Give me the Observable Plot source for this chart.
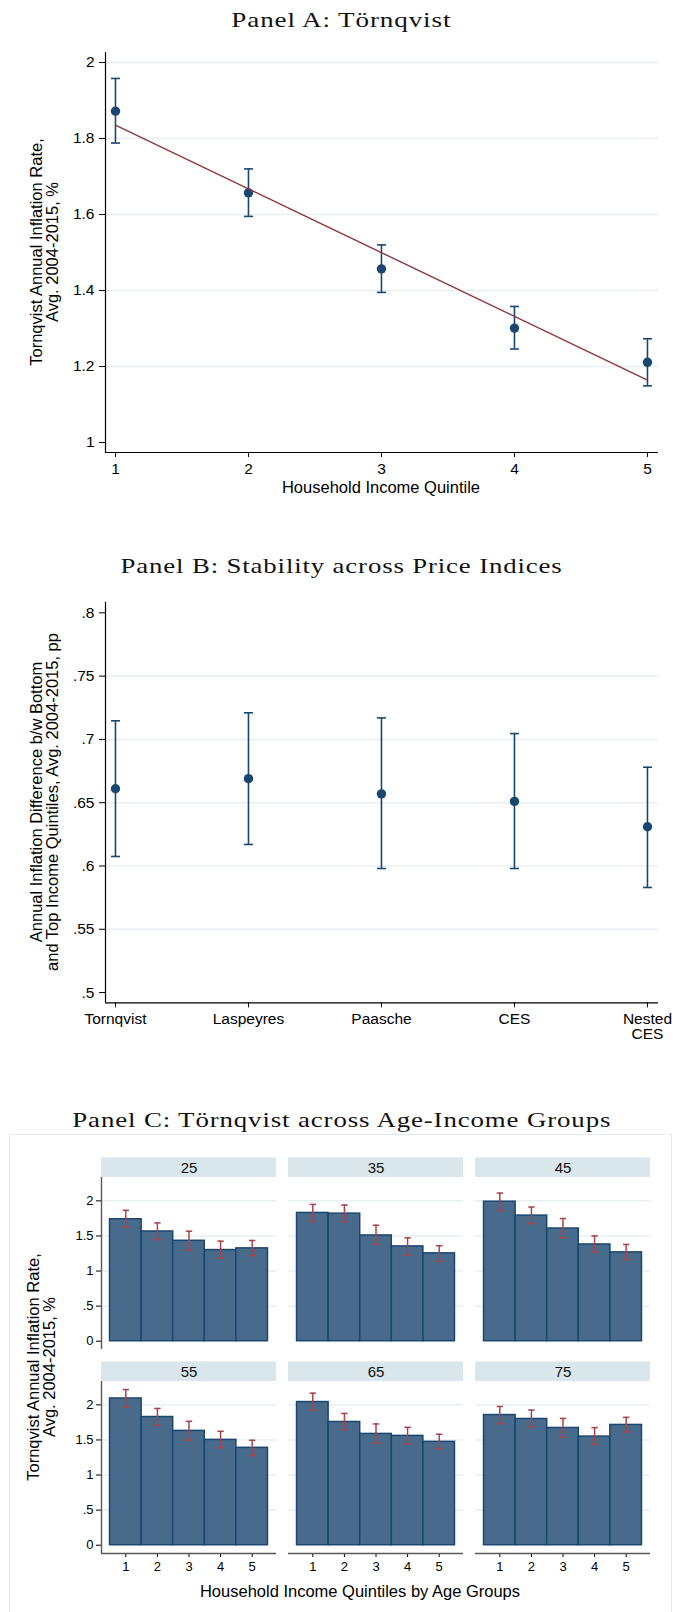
<!DOCTYPE html>
<html><head><meta charset="utf-8">
<script src="https://cdn.jsdelivr.net/npm/d3@7"></script>
<script src="https://cdn.jsdelivr.net/npm/@observablehq/plot@0.6"></script>
<style>
body{margin:0;background:#fff}
#root{position:relative;width:675px;height:1612px;overflow:hidden;background:#fff;font-family:"Liberation Sans",Arial,sans-serif;color:#000}
.abs{position:absolute;white-space:nowrap}
.title{font-family:"Liberation Serif","Times New Roman",serif;font-size:21.5px;line-height:1.2;letter-spacing:0.7px;color:#111}
.xlab{font-size:16.5px;line-height:1.2}
.ylab{font-size:16.5px;line-height:16px;white-space:pre;text-align:center}
</style></head>
<body><div id="root"></div>
<script>
// ---------- DATA ----------
const quintiles = [1, 2, 3, 4, 5];

// Panel A
const aMean = [1.872, 1.657, 1.457, 1.301, 1.211];
const aLo   = [1.788, 1.595, 1.395, 1.246, 1.149];
const aHi   = [1.958, 1.720, 1.520, 1.358, 1.273];
const aYTicks = [1, 1.2, 1.4, 1.6, 1.8, 2];
const aYTickLabels = ["1", "1.2", "1.4", "1.6", "1.8", "2"];
const aGrid = [1.2, 1.4, 1.6, 1.8, 2];

// Panel B
const indices = ["Tornqvist", "Laspeyres", "Paasche", "CES", "Nested CES"];
const indexLabels = ["Tornqvist", "Laspeyres", "Paasche", "CES", "Nested\nCES"];
const bMean = [0.661, 0.669, 0.657, 0.651, 0.631];
const bLo   = [0.6075, 0.617, 0.598, 0.598, 0.583];
const bHi   = [0.7147, 0.721, 0.717, 0.7046, 0.678];
const bYTicks = [0.5, 0.55, 0.6, 0.65, 0.7, 0.75, 0.8];
const bYTickLabels = [".5", ".55", ".6", ".65", ".7", ".75", ".8"];
const bGrid = [0.55, 0.6, 0.65, 0.7, 0.75];

// Panel C
const ageGroups = [25, 35, 45, 55, 65, 75];
const cMean = [
  [1.738, 1.564, 1.431, 1.299, 1.323],
  [1.828, 1.818, 1.507, 1.351, 1.252],
  [1.988, 1.790, 1.606, 1.379, 1.266],
  [2.091, 1.827, 1.629, 1.501, 1.388],
  [2.040, 1.756, 1.586, 1.558, 1.473],
  [1.855, 1.799, 1.671, 1.548, 1.714]
];
const cHi = [
  [1.865, 1.686, 1.568, 1.426, 1.436],
  [1.950, 1.941, 1.653, 1.473, 1.360],
  [2.111, 1.912, 1.748, 1.501, 1.379],
  [2.218, 1.949, 1.765, 1.623, 1.496],
  [2.167, 1.878, 1.728, 1.680, 1.581],
  [1.977, 1.926, 1.807, 1.676, 1.822]
];
const cLo = [
  [1.625, 1.450, 1.294, 1.181, 1.218],
  [1.705, 1.700, 1.379, 1.228, 1.139],
  [1.861, 1.677, 1.473, 1.266, 1.161],
  [1.969, 1.708, 1.496, 1.388, 1.279],
  [1.926, 1.643, 1.453, 1.439, 1.374],
  [1.732, 1.690, 1.538, 1.435, 1.615]
];
const cYTicks = [0, 0.5, 1, 1.5, 2];
const cYTickLabels = ["0", ".5", "1", "1.5", "2"];
const cGrid = [0.5, 1, 1.5, 2];

// ---------- STYLE / LAYOUT ----------
const navy = "#1a476f", maroon = "#90353b", gridCol = "#e8eff2";
const barFill = "#486b8c", ciRed = "#a8434b", stripFill = "#d9e6eb", axisGray = "#5a5a5a";
const font = '"Liberation Sans", Arial, sans-serif';
const root = document.getElementById("root");

const capSymbol = {draw(ctx, size) { const r = Math.sqrt(size / Math.PI); ctx.moveTo(-r, 0); ctx.lineTo(r, 0); }};
function labeler(ticks, labels) { const m = new Map(ticks.map((t, i) => [t, labels[i]])); return d => m.has(d) ? m.get(d) : ""; }
function mount(svg, top) { svg.style.position = "absolute"; svg.style.left = "0px"; svg.style.top = top + "px"; root.appendChild(svg); }

function placeText(text, cls, cx, baseline, targetWidth) {
  const d = document.createElement("div");
  d.className = "abs " + cls;
  d.style.left = "0px"; d.style.top = "0px";
  const t = document.createElement("span"); t.textContent = text;
  const m = document.createElement("span"); m.style.cssText = "display:inline-block;width:0;height:0;vertical-align:baseline";
  d.appendChild(t); d.appendChild(m);
  root.appendChild(d);
  const rb = root.getBoundingClientRect();
  const bl = m.getBoundingClientRect().top - rb.top;
  const w = t.getBoundingClientRect().width;
  const sx = targetWidth ? targetWidth / w : 1;
  d.style.top = (baseline - bl) + "px";
  d.style.left = (cx - w / 2) + "px";
  d.style.transformOrigin = (w / 2) + "px 50%";
  d.style.transform = "scaleX(" + sx + ")";
}
function placeYLabel(text, cx, cy) {
  const d = document.createElement("div");
  d.className = "abs ylab";
  d.textContent = text;
  root.appendChild(d);
  const r = d.getBoundingClientRect();
  d.style.left = (cx - r.width / 2) + "px";
  d.style.top = (cy - r.height / 2) + "px";
  d.style.transformOrigin = "50% 50%";
  d.style.transform = "rotate(-90deg)";
}

// ---------- PANEL A ----------
const aX = [0.925, 5.083], aY = [0.9737, 2.0263];
const aRows = quintiles.map((q, i) => ({q, m: aMean[i], lo: aLo[i], hi: aHi[i]}));
mount(Plot.plot({
  width: 675, height: 470, marginTop: 12, marginBottom: 58, marginLeft: 105, marginRight: 17,
  style: {fontFamily: font, fontSize: "15.5px", color: "#000", background: "none", overflow: "visible"},
  x: {domain: aX, ticks: quintiles, tickFormat: d => String(d), tickSize: 5, tickPadding: 5, label: null},
  y: {domain: aY, ticks: aYTicks, tickFormat: labeler(aYTicks, aYTickLabels), tickSize: 6, tickPadding: 5, label: null},
  marks: [
    Plot.ruleY(aGrid, {stroke: gridCol, strokeWidth: 1.5}),
    Plot.ruleX(aRows, {x: "q", y1: "lo", y2: "hi", stroke: navy, strokeWidth: 1.6}),
    Plot.dot(aRows, {x: "q", y: "lo", symbol: capSymbol, r: 4.5, fill: "none", stroke: navy, strokeWidth: 1.6}),
    Plot.dot(aRows, {x: "q", y: "hi", symbol: capSymbol, r: 4.5, fill: "none", stroke: navy, strokeWidth: 1.6}),
    Plot.dot(aRows, {x: "q", y: "m", r: 4.7, fill: navy, stroke: "none"}),
    Plot.linearRegressionY(aRows, {x: "q", y: "m", stroke: maroon, strokeWidth: 1.4, ci: 0}),
    Plot.ruleX([aX[0]], {stroke: "#000", strokeWidth: 1.2}),
    Plot.ruleY([aY[0]], {stroke: "#000", strokeWidth: 1.2})
  ]
}), 40);

// ---------- PANEL B ----------
const bX = [0.925, 5.083], bY = [0.4919, 0.8084];
const bRows = indices.map((k, i) => ({pos: i + 1, k, m: bMean[i], lo: bLo[i], hi: bHi[i]}));
mount(Plot.plot({
  width: 675, height: 470, marginTop: 16.7, marginBottom: 52.7, marginLeft: 105, marginRight: 17,
  style: {fontFamily: font, fontSize: "15.5px", color: "#000", background: "none", overflow: "visible"},
  x: {domain: bX, ticks: quintiles, tickFormat: d => indexLabels[d - 1], tickSize: 5, tickPadding: 5, label: null},
  y: {domain: bY, ticks: bYTicks, tickFormat: labeler(bYTicks, bYTickLabels), tickSize: 6, tickPadding: 5, label: null},
  marks: [
    Plot.ruleY(bGrid, {stroke: gridCol, strokeWidth: 1.5}),
    Plot.ruleX(bRows, {x: "pos", y1: "lo", y2: "hi", stroke: navy, strokeWidth: 1.6}),
    Plot.dot(bRows, {x: "pos", y: "lo", symbol: capSymbol, r: 4.5, fill: "none", stroke: navy, strokeWidth: 1.6}),
    Plot.dot(bRows, {x: "pos", y: "hi", symbol: capSymbol, r: 4.5, fill: "none", stroke: navy, strokeWidth: 1.6}),
    Plot.dot(bRows, {x: "pos", y: "m", r: 4.7, fill: navy, stroke: "none"}),
    Plot.ruleX([bX[0]], {stroke: "#000", strokeWidth: 1.2}),
    Plot.ruleY([bY[0]], {stroke: "#000", strokeWidth: 1.2})
  ]
}), 585);

// ---------- PANEL C ----------
const cX = [0.23, 5.77], cY = [-0.118, 2.333], cStrip = [2.333, 2.612];
const cRows = [];
ageGroups.forEach((age, g) => quintiles.forEach((q, i) => cRows.push({
  age, col: g % 3, row: Math.floor(g / 3), q, m: cMean[g][i], lo: cLo[g][i], hi: cHi[g][i]
})));
const cPanels = ageGroups.map((age, g) => ({age, col: g % 3, row: Math.floor(g / 3)}));

const box = document.createElement("div");
box.style.cssText = "position:absolute;left:9px;top:1134px;width:663px;height:520px;border:1.5px solid #e2eaed;box-sizing:border-box";
root.appendChild(box);

mount(Plot.plot({
  width: 675, height: 472, marginTop: 37, marginBottom: 57.7, marginLeft: 100, marginRight: 23,
  style: {fontFamily: font, fontSize: "13px", color: "#000", background: "none", overflow: "visible"},
  fx: {domain: [0, 1, 2], paddingInner: 0.0638, paddingOuter: 0, axis: null},
  fy: {domain: [0, 1], paddingInner: 0.155, paddingOuter: 0, axis: null},
  x: {domain: cX, ticks: quintiles, tickFormat: d => String(d), tickSize: 4, tickPadding: 4, label: null},
  y: {domain: cY, ticks: cYTicks, tickFormat: labeler(cYTicks, cYTickLabels), tickSize: 5, tickPadding: 3, label: null},
  marks: [
    Plot.ruleY(cGrid, {stroke: gridCol, strokeWidth: 1.5}),
    Plot.rect(cPanels, {fx: "col", fy: "row", y1: cStrip[0], y2: cStrip[1], fill: stripFill}),
    Plot.text(cPanels, {fx: "col", fy: "row", y: (cStrip[0] + cStrip[1]) / 2, text: d => String(d.age), fontSize: 15, fill: "#111"}),
    Plot.rect(cRows, {fx: "col", fy: "row", x1: d => d.q - 0.5, x2: d => d.q + 0.5, y1: 0, y2: "m", fill: barFill, stroke: navy, strokeWidth: 1.5}),
    Plot.ruleX(cRows, {fx: "col", fy: "row", x: "q", y1: "lo", y2: "hi", stroke: ciRed, strokeWidth: 1.5}),
    Plot.dot(cRows, {fx: "col", fy: "row", x: "q", y: "lo", symbol: capSymbol, r: 3.2, fill: "none", stroke: ciRed, strokeWidth: 1.5}),
    Plot.dot(cRows, {fx: "col", fy: "row", x: "q", y: "hi", symbol: capSymbol, r: 3.2, fill: "none", stroke: ciRed, strokeWidth: 1.5}),
    Plot.ruleX(cPanels.filter(d => d.col === 0), {fx: "col", fy: "row", x: cX[0], y1: cY[0], y2: cY[1], stroke: axisGray, strokeWidth: 1.4}),
    Plot.ruleY(cPanels.filter(d => d.row === 1), {fx: "col", fy: "row", y: cY[0], stroke: axisGray, strokeWidth: 1.4})
  ]
}), 1140);

// ---------- TEXT ----------
placeText("Panel A: Törnqvist", "title", 341.7, 27.3, 220);
placeText("Panel B: Stability across Price Indices", "title", 341.7, 573.3, 442);
placeText("Panel C: Törnqvist across Age-Income Groups", "title", 341.7, 1126.8, 539);
placeText("Household Income Quintile", "xlab", 381, 493);
placeText("Household Income Quintiles by Age Groups", "xlab", 360, 1597);
placeYLabel("Tornqvist Annual Inflation Rate,\nAvg. 2004-2015, %", 44, 252);
placeYLabel("Annual Inflation Difference b/w Bottom\nand Top Income Quintiles, Avg. 2004-2015, pp", 44, 802);
placeYLabel("Tornqvist Annual Inflation Rate,\nAvg. 2004-2015, %", 41, 1367);
</script>
</body></html>
